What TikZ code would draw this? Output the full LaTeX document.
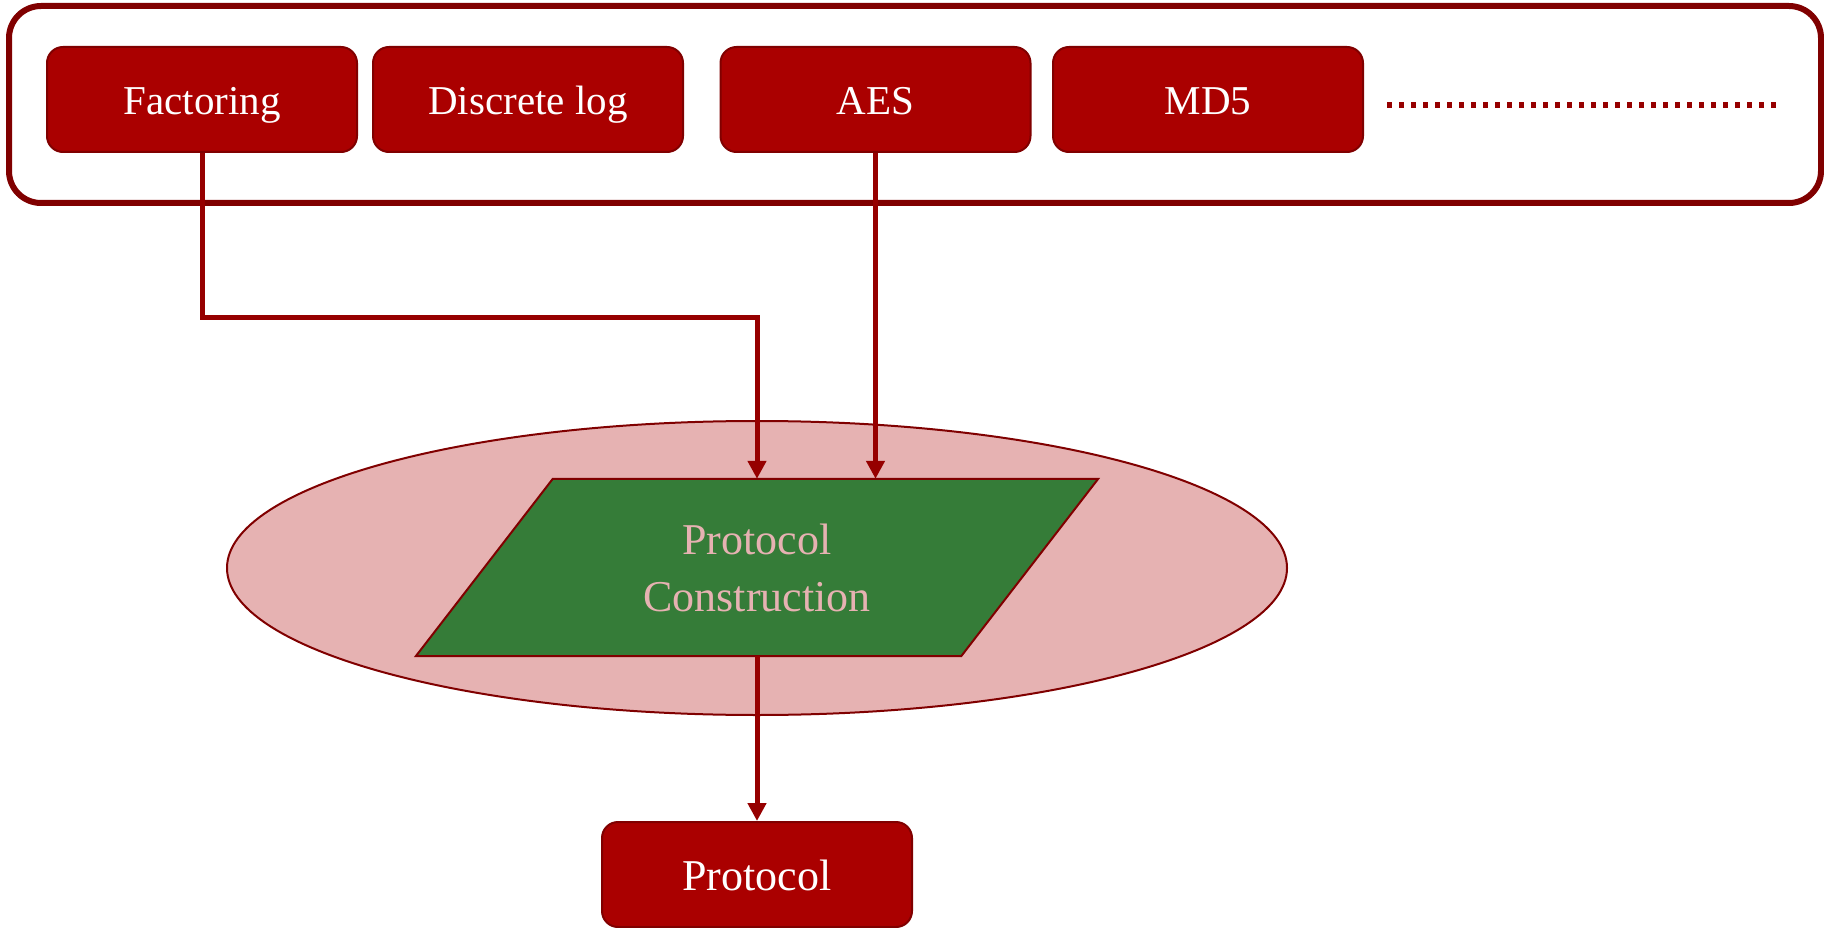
\documentclass[tikz,border=0pt]{standalone}
\usepackage{fontspec}
\setmainfont{Liberation Serif}
\usetikzlibrary{arrows.meta,shapes.geometric}
\definecolor{boxred}{HTML}{AA0000}
\definecolor{edgered}{HTML}{800000}
\definecolor{linkred}{HTML}{960000}
\definecolor{rosefill}{HTML}{E6B2B2}
\definecolor{leafgreen}{HTML}{357C38}
\begin{document}
\begin{tikzpicture}[x=1pt,y=-1pt,
  prim/.style={draw=edgered, line width=2pt, fill=boxred, rounded corners=16pt,
    minimum width=310pt, minimum height=105pt, inner sep=0pt,
    text height=36pt, text depth=5pt,
    text=white, font=\fontsize{41}{48}\selectfont},
  link/.style={draw=linkred, line width=5pt, -{Triangle[length=18pt,width=18pt]}},
  frame/.style={draw=edgered, line width=6pt, rounded corners=32pt, inner sep=0pt},
]
\useasboundingbox (0,0) rectangle (1824,928);

% container of the primitives
\node[frame, minimum width=1812pt, minimum height=197pt] (frame) at (915,104.5) {};

% primitives
\node[prim] (fac) at (202,99.5) {Factoring};
\node[prim] (dlog) at (528,99.5) {Discrete log};
\node[prim] (aes) at (875.5,99.5) {AES};
\node[prim] (md5) at (1208,99.5) {MD5};

% "and so on" dotted run
\coordinate (dotA) at (1387,105);
\coordinate (dotB) at (1780,105);
\draw[draw=linkred, line width=5.5pt, dash pattern=on 5pt off 7pt] (dotA) -- (dotB);

% construction stage
\node[ellipse, draw=edgered, line width=2pt, fill=rosefill,
      minimum width=1060pt, minimum height=294pt, inner sep=0pt] (ring) at (757,568) {};
\node[minimum width=682pt, minimum height=177pt, inner sep=0pt] (pcbox) at (757,567.5) {};
\draw[draw=edgered, line width=2pt, fill=leafgreen]
  ([xshift=137pt]pcbox.north west) -- (pcbox.north east)
  -- ([xshift=-137pt]pcbox.south east) -- (pcbox.south west) -- cycle;
\node[text=rosefill, align=center, font=\fontsize{44}{57}\selectfont] (pclabel)
  at (pcbox.center) {Protocol\\Construction};

% result
\node[prim, font=\fontsize{44}{52}\selectfont] (proto) at (757,874.5) {Protocol};

% connectors
\coordinate (knee) at (fac.south |- 0,317);
\draw[link] (fac.south) -- (knee) -| (pcbox.north);
\draw[link] (aes.south) -- (aes.south |- pcbox.north);
\draw[link] (pcbox.south) -- (proto.north);
\end{tikzpicture}
\end{document}
